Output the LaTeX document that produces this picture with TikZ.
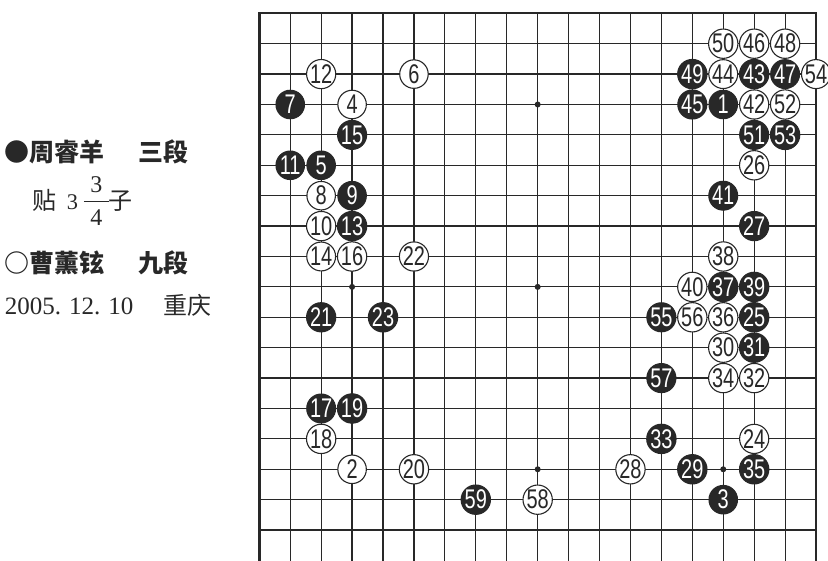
\documentclass[tikz,border=0pt]{standalone}
\usepackage{fontspec}
\usepackage{graphicx}
\setmainfont{Liberation Serif}
\newfontfamily\cjk{Noto Sans CJK SC}
\newfontfamily\numfont{Liberation Sans}
\definecolor{ink}{RGB}{40,40,40}
\newcommand{\mv}[1]{\scalebox{0.74}[1]{#1}}

\begin{document}
\begin{tikzpicture}[x=30.93pt, y=-30.4pt, every node/.style={inner sep=0pt},
          gline/.style={draw=ink, line width=1.2pt},
          rim/.style={draw=ink, line width=2.4pt, line cap=rect},
          star/.style={circle, fill=ink, minimum size=6pt},
          bstone/.style={circle, draw=ink, fill=ink, line width=1.1pt, minimum size=28.5pt,
                    text=white, font=\numfont\fontsize{27}{27}\selectfont},
          wstone/.style={bstone, fill=white, text=ink},
          info/.style={anchor=west, text=ink, font=\cjk\fontsize{24}{24}\selectfont},
          player/.style={info, font=\cjk\bfseries\fontsize{25}{25}\selectfont}]
        \useasboundingbox[fill=white] (-8.384,-0.4375) rectangle (18.387,18.016);
        % board
        \foreach \i in {0,...,18} \draw[gline] (\i,0) -- (\i,18.1);
        \foreach \j in {1,...,17} \draw[gline] (0,\j) -- (18,\j);
        \draw[rim] (0,18.1) -- (0,0) -- (18,0) -- (18,18.1);
        \foreach \i in {3,9,15} \foreach \j in {3,9,15}
          \node[star] (st\i-\j) at (\i,\j) {};
        % stones: move/column/row
        \foreach \n/\i/\j in {1/15/3, 3/15/16, 5/2/5, 7/1/3, 9/3/6, 11/1/5, 13/3/7,
            15/3/4, 17/2/13, 19/3/13, 21/2/10, 23/4/10, 25/16/10, 27/16/7, 29/14/15,
            31/16/11, 33/13/14, 35/16/15, 37/15/9, 39/16/9, 41/15/6, 43/16/2, 45/14/3,
            47/17/2, 49/14/2, 51/16/4, 53/17/4, 55/13/10, 57/13/12, 59/7/16}
          \node[bstone] (s\n) at (\i,\j) {\mv{\n}};
        \foreach \n/\i/\j in {2/3/15, 4/3/3, 6/5/2, 8/2/6, 10/2/7, 12/2/2, 14/2/8,
            16/3/8, 18/2/14, 20/5/15, 22/5/8, 24/16/14, 26/16/5, 28/12/15, 30/15/11,
            32/16/12, 34/15/12, 36/15/10, 38/15/8, 40/14/9, 42/16/3, 44/15/2, 46/16/1,
            48/17/1, 50/15/1, 52/17/3, 54/18/2, 56/14/10, 58/9/16}
          \node[wstone] (s\n) at (\i,\j) {\mv{\n}};
        % game info
        \node[player] (blk) at (-8.23,4.56) {●周睿羊\hspace{34pt}三段};
        \node[info] (komi) at (-7.33,6.26)
             {贴\hspace{10pt}\scalebox{1.4}{\rmfamily\fontsize{16}{16}\selectfont 3}\hspace{6pt}%
              {\rmfamily\fontsize{24}{25}\selectfont
               \begin{tabular}[c]{@{\hspace{6.5pt}}c@{\hspace{6.5pt}}}3\\[1pt]\hline
                 \rule{0pt}{24pt}4\end{tabular}}子};
        \node[player] (wht) at (-8.23,8.21) {○曹薰铉\hspace{34pt}九段};
        \node[info] (date) at (-8.23,9.60)
             {{\rmfamily\fontsize{25}{25}\selectfont 2005.\hspace{8pt}12.\hspace{8pt}10}\hspace{30pt}重庆};
      \end{tikzpicture}
\end{document}
